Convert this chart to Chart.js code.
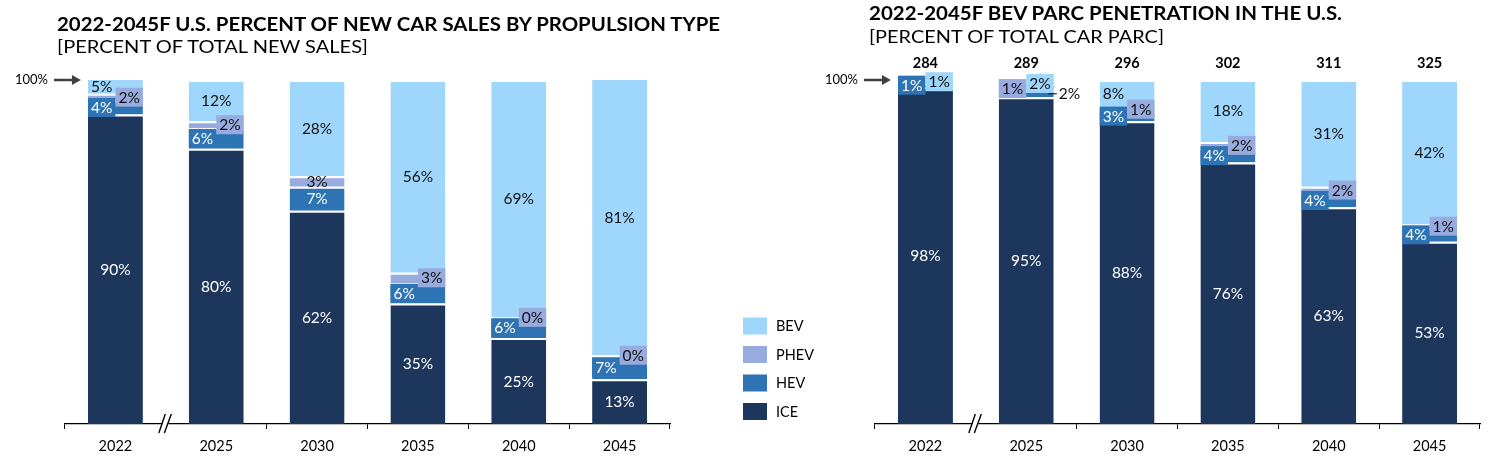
<!DOCTYPE html>
<html><head><meta charset="utf-8">
<script src="https://cdn.jsdelivr.net/npm/chart.js@4.4.1/dist/chart.umd.min.js"></script>
<style>
html,body{margin:0;padding:0;background:#fff;}
#wrap{position:relative;width:1493px;height:457px;overflow:hidden;font-family:Lato,'Open Sans',sans-serif;}
.t{position:absolute;white-space:nowrap;color:#000;transform-origin:0 0;line-height:1;}
.b{font-weight:700;font-size:19.5px;}
.s{font-weight:400;font-size:17.5px;}
#c1{position:absolute;left:0;top:0;}
#c2{position:absolute;left:820px;top:0;}
</style></head><body>
<div id="wrap">
  <canvas id="c1" width="820" height="457"></canvas>
  <canvas id="c2" width="673" height="457"></canvas>
  <div class="t b" style="left:57px;top:13.7px" data-w="663">2022-2045F U.S. PERCENT OF NEW CAR SALES BY PROPULSION TYPE</div>
  <div class="t s" style="left:57px;top:38px" data-w="311">[PERCENT OF TOTAL NEW SALES]</div>
  <div class="t b" style="left:869px;top:3.4px" data-w="473">2022-2045F BEV PARC PENETRATION IN THE U.S.</div>
  <div class="t s" style="left:869px;top:27.8px" data-w="295">[PERCENT OF TOTAL CAR PARC]</div>
</div>
<script>
// ---- data ----
const years = ['2022','2025','2030','2035','2040','2045'];
const salesICE  = [90, 80, 62, 35, 25, 13];
const salesHEV  = [4, 6, 7, 6, 6, 7];
const salesPHEV = [2, 2, 3, 3, 0, 0];
const salesBEV  = [5, 12, 28, 56, 69, 81];
const parcICE  = [98, 95, 88, 76, 63, 53];
const parcHEV  = [1, 2, 3, 4, 4, 4];
const parcPHEV = [0, 1, 1, 2, 2, 1];
const parcBEV  = [1, 2, 8, 18, 31, 42];
const parcTotals = [284, 289, 296, 302, 311, 325];

// ---- styles ----
const colors = {ICE:'#1d365c', HEV:'#2e74b5', PHEV:'#98abdf', BEV:'#9fd6fb'};
const textColors = {ICE:'#ffffff', HEV:'#ffffff', PHEV:'#111111', BEV:'#111111'};
// label placement: C center, L/R boxed quarter, l/r unboxed quarter, O outside with leader
const salesPlace = {
  ICE:['C','C','C','C','C','C'],
  HEV:['L','L','C','L','L','L'],
  PHEV:['R','R','C','R','R','R'],
  BEV:['l','C','C','C','C','C']
};
const parcPlace = {
  ICE:['C','C','C','C','C','C'],
  HEV:['L','O','L','L','L','L'],
  PHEV:['','L','R','R','R','R'],
  BEV:['R','R','l','C','C','C']
};
const FONT = 'Lato, "Open Sans", sans-serif';

function makeDatasets(ice, hev, phev, bev){
  const src = {ICE:ice, HEV:hev, PHEV:phev, BEV:bev};
  return ['ICE','HEV','PHEV','BEV'].map(k => ({
    label:k, data:src[k], backgroundColor:colors[k],
    borderColor:'#ffffff', borderWidth:{top:2,right:0,bottom:0,left:0},
    borderSkipped:false, categoryPercentage:1.0, barPercentage:0.545
  }));
}

const segLabels = {
  id:'segLabels',
  afterDatasetsDraw(chart, args, opts){
    const ctx = chart.ctx, ca = chart.chartArea;
    const items = [];
    chart.data.datasets.forEach((ds,i)=>{
      const meta = chart.getDatasetMeta(i);
      meta.data.forEach((el,j)=>{
        const mode = opts.place[ds.label][j];
        if(!mode) return;
        const top = Math.max(el.y, ca.top), bot = el.base;
        const cy = (top+bot)/2, w = el.width, left = el.x - w/2;
        items.push({mode, ds, j, cy, w, left, x:el.x});
      });
    });
    ctx.save();
    items.forEach(it=>{
      if(it.mode==='L'||it.mode==='R'){
        ctx.fillStyle = it.ds.backgroundColor;
        const bx = it.mode==='L' ? it.left : it.x;
        ctx.fillRect(bx, it.cy-9.5, it.w/2, 19);
      }
    });
    ctx.font = '15.5px ' + FONT;
    ctx.textBaseline = 'middle';
    items.forEach(it=>{
      const txt = it.ds.data[it.j] + '%';
      if(it.mode==='O'){
        ctx.strokeStyle = '#000'; ctx.lineWidth = 1;
        ctx.beginPath(); ctx.moveTo(it.left+it.w-5, it.cy); ctx.lineTo(it.left+it.w+3, it.cy); ctx.stroke();
        ctx.textAlign = 'left'; ctx.fillStyle = '#111';
        ctx.fillText(txt, it.left+it.w+5, it.cy+0.5);
        return;
      }
      let cx = it.x;
      if(it.mode==='L'||it.mode==='l') cx = it.left + it.w/4;
      if(it.mode==='R'||it.mode==='r') cx = it.left + 3*it.w/4;
      ctx.textAlign = 'center';
      ctx.fillStyle = textColors[it.ds.label];
      ctx.fillText(txt, cx, it.cy+0.5);
    });
    ctx.restore();
  }
};

const decor = {
  id:'decor',
  afterDraw(chart, args, opts){
    const ctx = chart.ctx, ca = chart.chartArea;
    const meta = chart.getDatasetMeta(0);
    const el0 = meta.data[0], el1 = meta.data[1];
    ctx.save();
    const y100 = chart.scales.y.getPixelForValue(100);
    const tip = el0.x - el0.width/2 - 7, start = tip - 27;
    ctx.strokeStyle = '#404040'; ctx.fillStyle = '#404040'; ctx.lineWidth = 2.5;
    ctx.beginPath(); ctx.moveTo(start, y100); ctx.lineTo(tip-7, y100); ctx.stroke();
    ctx.beginPath(); ctx.moveTo(tip, y100); ctx.lineTo(tip-9, y100-5); ctx.lineTo(tip-9, y100+5); ctx.closePath(); ctx.fill();
    ctx.font = '13px ' + FONT; ctx.fillStyle = '#000'; ctx.textAlign = 'right'; ctx.textBaseline = 'middle';
    ctx.fillText('100%', start-6, y100);
    const xb = (el0.x + el1.x)/2, yb = ca.bottom;
    ctx.fillStyle = '#fff';
    ctx.fillRect(xb-3.5, yb-2, 6, 4);
    ctx.strokeStyle = '#000'; ctx.lineWidth = 1.4;
    ctx.beginPath();
    ctx.moveTo(xb-7, yb+9); ctx.lineTo(xb-0.5, yb-10);
    ctx.moveTo(xb-1.5, yb+9); ctx.lineTo(xb+5.5, yb-10);
    ctx.stroke();
    if(opts.totals){
      ctx.font = 'bold 14.5px ' + FONT; ctx.fillStyle = '#000'; ctx.textAlign = 'center';
      meta.data.forEach((el,j)=>{ ctx.fillText(String(opts.totals[j]), el.x, 63); });
    }
    if(opts.legend){
      ctx.font = '14.5px ' + FONT; ctx.textAlign = 'left'; ctx.textBaseline = 'middle';
      const ds = chart.data.datasets.slice().reverse();
      ds.forEach((d,k)=>{
        const cy = 326 + k*28.5;
        ctx.fillStyle = d.backgroundColor;
        ctx.fillRect(ca.right+73, cy-8.5, 24, 17);
        ctx.fillStyle = '#000';
        ctx.fillText(d.label, ca.right+106, cy+0.5);
      });
    }
    ctx.restore();
  }
};

function makeChart(id, datasets, place, padL, padR, extra){
  return new Chart(document.getElementById(id), {
    type:'bar',
    data:{labels:years, datasets},
    plugins:[segLabels, decor],
    options:{
      responsive:false, animation:false, devicePixelRatio:1,
      layout:{padding:{left:padL, right:padR, top:80, bottom:0}},
      plugins:{
        legend:{display:false}, tooltip:{enabled:false},
        segLabels:{place},
        decor:extra
      },
      scales:{
        x:{
          stacked:true,
          afterFit(s){ s.height = 33; },
          grid:{offset:true, drawOnChartArea:false, drawTicks:true, tickLength:5,
                color:(c)=> c.index===1 ? 'rgba(0,0,0,0)' : '#000', lineWidth:1},
          border:{display:true, color:'#000', width:1.3},
          ticks:{color:'#000', font:{family:FONT, size:14.5}, padding:9, maxRotation:0}
        },
        y:{stacked:true, display:false, min:0, max:100}
      }
    }
  });
}

function fitTitles(){
  document.querySelectorAll('.t').forEach(d=>{
    const target = +d.dataset.w;
    const w = d.getBoundingClientRect().width;
    if(w>0) d.style.transform = 'scaleX(' + (target/w) + ')';
  });
}

Promise.all([
  document.fonts.load('15px Lato'), document.fonts.load('bold 15px Lato')
]).catch(()=>{}).then(()=>{
  fitTitles();
  makeChart('c1', makeDatasets(salesICE, salesHEV, salesPHEV, salesBEV), salesPlace, 65, 150, {legend:true});
  makeChart('c2', makeDatasets(parcICE, parcHEV, parcPHEV, parcBEV), parcPlace, 55, 13, {totals:parcTotals});
});
</script>
</body></html>
